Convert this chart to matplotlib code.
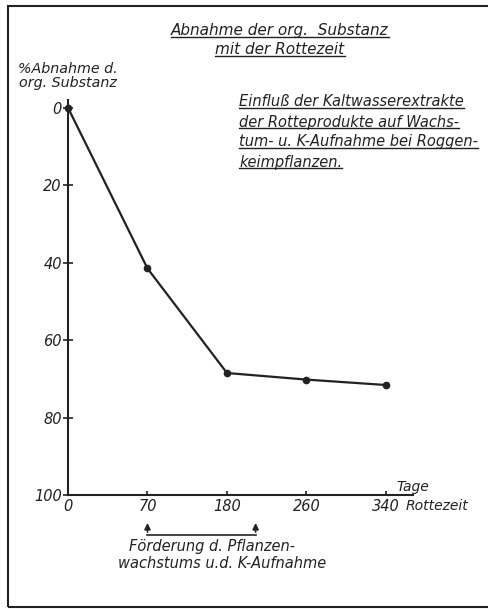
import matplotlib.pyplot as plt
from matplotlib.patches import Rectangle
from matplotlib.lines import Line2D
import numpy as np

# Rottezeit (Tage) und % Abnahme der org. Substanz
days = ['0', '70', '180', '260', '340']
loss = [0, 41.5, 68.5, 70.2, 71.6]
y_ticks = [0, 20, 40, 60, 80, 100]

ink = '#222222'
font = dict(family='DejaVu Sans', style='italic', color=ink)

fig = plt.figure(figsize=(4.89, 6.09), dpi=100)
ax = fig.add_axes([68 / 489, 1 - 495 / 609, 345 / 489, 395 / 609])

x = np.arange(len(days))
ax.plot(x, loss, color=ink, lw=1.6, marker='o', ms=4.5, clip_on=False, zorder=3)

ax.set_xlim(0, 4.34)
ax.set_ylim(100, -2)
ax.set_xticks(x)
ax.set_xticklabels(days, **font, fontsize=10.5)
ax.set_yticks(y_ticks)
ax.set_yticklabels([str(v) for v in y_ticks], **font, fontsize=10.5)

for s in ['top', 'right']:
    ax.spines[s].set_visible(False)
for s in ['left', 'bottom']:
    ax.spines[s].set_linewidth(1.5)
    ax.spines[s].set_color(ink)
ax.tick_params(axis='y', direction='inout', length=7, width=1.2, color=ink, pad=1)
ax.tick_params(axis='x', direction='in', length=3, width=1.2, color=ink, pad=3)

# Achsentitel
fig.text(68 / 489, 1 - 76 / 609, '%Abnahme d.\norg. Substanz', ha='center', va='center',
         fontsize=10.3, linespacing=0.95, **font)
fig.text(413 / 489, 1 - 487 / 609, 'Tage', ha='center', va='center', fontsize=10, **font)
fig.text(437 / 489, 1 - 506 / 609, 'Rottezeit', ha='center', va='center', fontsize=10, **font)

# Beschriftungen mit Unterstreichung
underlined = []
for txt, px, py in [('Abnahme der org.  Substanz', 280, 31), ('mit der Rottezeit', 280, 50)]:
    underlined.append(fig.text(px / 489, 1 - py / 609, txt, ha='center', va='center',
                               fontsize=11, **font))
info = ['Einfluß der Kaltwasserextrakte', 'der Rotteprodukte auf Wachs-',
        'tum- u. K-Aufnahme bei Roggen-', 'keimpflanzen.']
for i, txt in enumerate(info):
    underlined.append(fig.text(239 / 489, 1 - (102 + 20 * i) / 609, txt, ha='left',
                               va='center', fontsize=10.5, **font))

fig.canvas.draw()
r = fig.canvas.get_renderer()
for t in underlined:
    bb = t.get_window_extent(r).transformed(fig.transFigure.inverted())
    fig.add_artist(Line2D([bb.x0, bb.x1], [bb.y0 + 0.002, bb.y0 + 0.002], color=ink, lw=1.0))

# Klammer unter der x-Achse
bx0, bx1 = 1, 2.36
ax.annotate('', xy=(bx0, 106.5), xytext=(bx0, 110.3), annotation_clip=False,
            arrowprops=dict(arrowstyle='-|>', color=ink, lw=1.2, mutation_scale=9))
ax.annotate('', xy=(bx1, 106.5), xytext=(bx1, 110.3), annotation_clip=False,
            arrowprops=dict(arrowstyle='-|>', color=ink, lw=1.2, mutation_scale=9))
ax.plot([bx0, bx1], [110.3, 110.3], color=ink, lw=1.2, clip_on=False)
fig.text(212 / 489, 1 - 546 / 609, 'Förderung d. Pflanzen-', ha='center', va='center',
         fontsize=10.5, **font)
fig.text(222 / 489, 1 - 564 / 609, 'wachstums u.d. K-Aufnahme', ha='center', va='center',
         fontsize=10.5, **font)

# Rahmen
fig.add_artist(Rectangle((8 / 489, 2 / 609), 1.0, 601 / 609, transform=fig.transFigure,
                         fill=False, edgecolor=ink, lw=1.5))

fig.savefig('out.png', dpi=100)
